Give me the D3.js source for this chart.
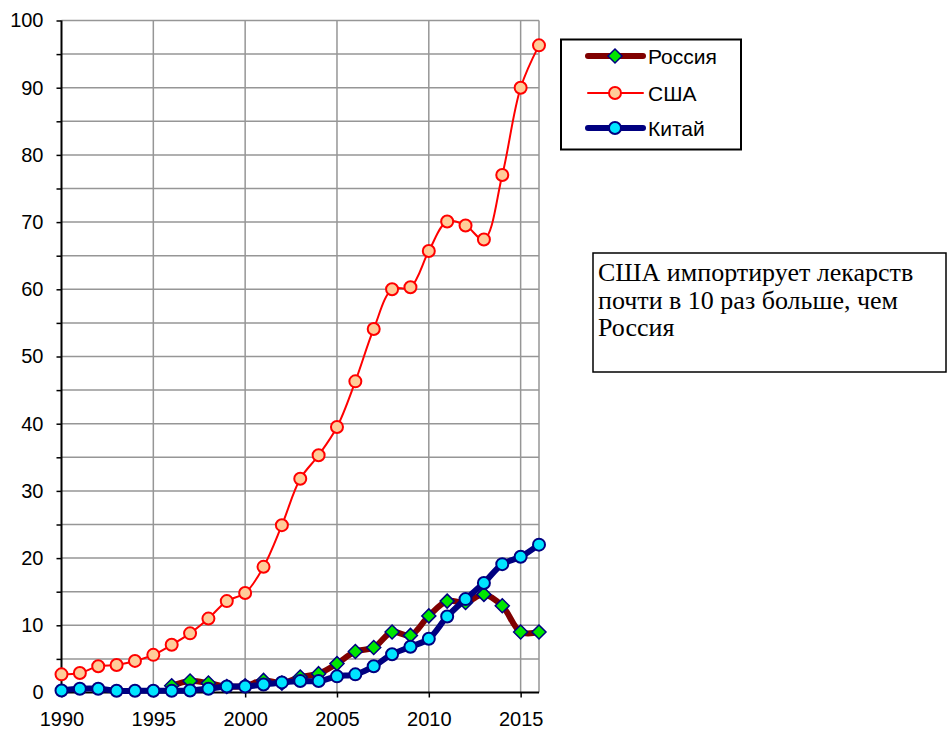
<!DOCTYPE html>
<html>
<head>
<meta charset="utf-8">
<script src="https://cdn.jsdelivr.net/npm/d3@7/dist/d3.min.js"></script>
<style>
  html, body { margin: 0; padding: 0; background: #fff; }
  svg { display: block; }
</style>
</head>
<body>
<svg id="chart" width="951" height="734"></svg>
<script>
// Импорт лекарств, млрд долл.
const years = d3.range(1990, 2017);
const yTicks = [0, 10, 20, 30, 40, 50, 60, 70, 80, 90, 100];
const xTicks = [1990, 1995, 2000, 2005, 2010, 2015];

const russia = [null, null, null, null, null, null,
  1.0, 1.7, 1.4, 0.9, 1.0, 1.8, 1.4, 2.3, 2.8, 4.3, 6.1, 6.7, 9.0, 8.5,
  11.4, 13.6, 13.4, 14.6, 12.9, 9.0, 9.0];
const usa = [2.7, 2.9, 3.9, 4.1, 4.7, 5.6, 7.1, 8.8, 11.0, 13.6, 14.8, 18.7,
  24.9, 31.8, 35.3, 39.5, 46.3, 54.1, 60.0, 60.3, 65.7, 70.1, 69.5, 67.4,
  77.0, 90.0, 96.3];
const china = [0.3, 0.55, 0.55, 0.25, 0.25, 0.25, 0.25, 0.3, 0.55, 0.9, 0.9,
  1.2, 1.5, 1.7, 1.7, 2.4, 2.7, 3.9, 5.7, 6.8, 8.0, 11.3, 13.9, 16.3, 19.1,
  20.2, 22.0];

const seriesNames = ["Россия", "США", "Китай"];
const noteLines = ["США импортирует лекарств", "почти в 10 раз больше, чем", "Россия"];

const svg = d3.select("#chart");
const plot = { left: 61.5, right: 539, top: 20.5, bottom: 692.5 };
const sans = "Arial, 'Liberation Sans', sans-serif";

const x = d3.scaleLinear().domain([1990, 2016]).range([plot.left, plot.right]);
const y = d3.scaleLinear().domain([0, 100]).range([plot.bottom, plot.top]);

// Grid: horizontal every 5, vertical every 5 years
const grid = svg.append("g");
grid.selectAll("line.h").data(d3.range(5, 101, 5)).join("line")
  .attr("x1", plot.left).attr("x2", plot.right)
  .attr("y1", d => y(d)).attr("y2", d => y(d))
  .attr("stroke", "#969696").attr("stroke-width", 1.5);
grid.selectAll("line.v").data(xTicks.slice(1)).join("line")
  .attr("x1", d => x(d)).attr("x2", d => x(d))
  .attr("y1", plot.top).attr("y2", plot.bottom)
  .attr("stroke", "#969696").attr("stroke-width", 1.5);
grid.append("line")
  .attr("x1", plot.right).attr("x2", plot.right)
  .attr("y1", plot.top).attr("y2", plot.bottom)
  .attr("stroke", "#969696").attr("stroke-width", 1.5);

// Axes
const yAxis = d3.axisLeft(y).tickValues(d3.range(0, 101, 5)).tickSize(5)
  .tickFormat(d => yTicks.includes(d) ? d : "");
const gy = svg.append("g").attr("transform", `translate(${plot.left},0)`).call(yAxis);
const xAxis = d3.axisBottom(x).tickValues(xTicks).tickSize(5).tickFormat(d3.format("d"));
const gx = svg.append("g").attr("transform", `translate(0,${plot.bottom})`).call(xAxis);

[gy, gx].forEach(g => {
  g.select(".domain").attr("stroke", "#000").attr("stroke-width", 2);
  g.selectAll(".tick line").attr("stroke", "#000").attr("stroke-width", 1.5);
  g.selectAll(".tick text").attr("fill", "#000")
    .style("font-family", sans).style("font-size", "20px");
});
gy.select(".domain").attr("d", `M0,${plot.top}V${plot.bottom}`);
gx.select(".domain").attr("d", `M${plot.left},0H${plot.right}`);
gy.selectAll(".tick text").attr("x", -18);
gx.selectAll(".tick text").attr("y", 19);

// Series
const curve = d3.curveCatmullRom.alpha(0.5);
const line = d3.line()
  .defined(d => d.v != null)
  .x(d => x(d.year)).y(d => y(d.v)).curve(curve);

const toPts = arr => years.map((yr, i) => ({ year: yr, v: arr[i] }));

const styles = [
  { data: russia, stroke: "#800000", width: 6, marker: "diamond", fill: "#00e600", outline: "#000080", r: 6 },
  { data: usa, stroke: "#ff0000", width: 2, marker: "circle", fill: "#ffcc99", outline: "#ff0000", r: 6 },
  { data: china, stroke: "#000080", width: 6, marker: "circle", fill: "#00e5ff", outline: "#000080", r: 6 }
];

function drawMarker(g, s, cx, cy) {
  if (s.marker === "diamond") {
    g.append("path")
      .attr("d", `M${cx},${cy - s.r - 1}L${cx + s.r + 1},${cy}L${cx},${cy + s.r + 1}L${cx - s.r - 1},${cy}Z`)
      .attr("fill", s.fill).attr("stroke", s.outline).attr("stroke-width", 1.5);
  } else {
    g.append("circle").attr("cx", cx).attr("cy", cy).attr("r", s.r)
      .attr("fill", s.fill).attr("stroke", s.outline).attr("stroke-width", 2);
  }
}

styles.forEach(s => {
  const pts = toPts(s.data);
  const g = svg.append("g");
  g.append("path").datum(pts).attr("d", line)
    .attr("fill", "none").attr("stroke", s.stroke).attr("stroke-width", s.width)
    .attr("stroke-linejoin", "round").attr("stroke-linecap", "round");
  pts.filter(d => d.v != null).forEach(d => drawMarker(g, s, x(d.year), y(d.v)));
});

// Legend
const lg = svg.append("g");
lg.append("rect").attr("x", 561).attr("y", 39.5).attr("width", 180).attr("height", 110)
  .attr("fill", "#fff").attr("stroke", "#000").attr("stroke-width", 2);
const legendY = [56, 93, 128];
styles.forEach((s, i) => {
  const ly = legendY[i];
  lg.append("line").attr("x1", 588).attr("x2", 643).attr("y1", ly).attr("y2", ly)
    .attr("stroke", s.stroke).attr("stroke-width", s.width).attr("stroke-linecap", "round");
  drawMarker(lg, s, 615, ly);
  lg.append("text").attr("x", 648).attr("y", ly + 7.5).text(seriesNames[i])
    .style("font-family", sans).style("font-size", "21px")
    .attr("fill", "#000");
});

// Annotation box
const ng = svg.append("g");
ng.append("rect").attr("x", 593).attr("y", 253).attr("width", 353).attr("height", 119)
  .attr("fill", "#fff").attr("stroke", "#000").attr("stroke-width", 1.5);
noteLines.forEach((t, i) => {
  ng.append("text").attr("x", 598).attr("y", 281 + i * 27.5).text(t)
    .style("font-family", "'Times New Roman', 'Liberation Serif', serif").style("font-size", "26px")
    .attr("fill", "#000");
});
</script>
</body>
</html>
